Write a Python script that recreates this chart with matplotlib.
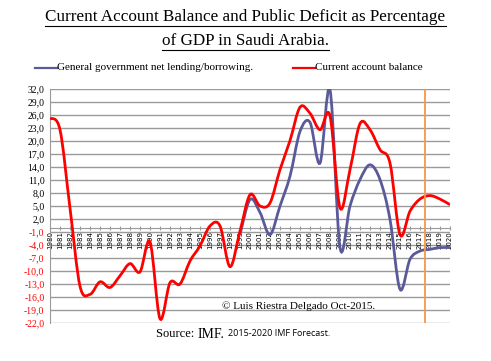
import numpy as np
import matplotlib
matplotlib.use("Agg")
import matplotlib.pyplot as plt
from matplotlib.path import Path
from matplotlib.patches import PathPatch
from matplotlib.lines import Line2D

# ---data (percent of GDP)---
years = list(range(1980, 2021))
current_account = [25.3, 22.6, 4.5, -13.5, -15.4, -12.5, -13.8, -11.1, -8.3, -10.2,
                   -3.3, -21.0, -12.7, -13.0, -7.7, -4.2, 0.4, 0.4, -9.0, -0.8,
                   7.6, 5.0, 5.7, 13.4, 20.1, 27.8, 26.4, 22.6, 25.8, 4.6,
                   13.4, 24.0, 22.6, 18.0, 14.9, -1.6, 3.8, 6.6, 7.4, 6.6, 5.3]
gov_years = list(range(1999, 2021))
gov_lending = [-1.6, 6.5, 3.5, -1.6, 5.0, 11.9, 22.2, 24.3, 14.9, 31.8,
               -4.6, 5.0, 11.1, 14.5, 11.1, 1.9, -14.2, -7.3, -5.4, -5.0, -4.6, -4.6]
y_ticks = np.arange(-22, 33, 3)
forecast_marker = 2017.5

RED = "#ff0000"
BLUE = "#5a5a9a"
SERIF = "Liberation Serif"


def smooth_path(xs, ys):
    """Catmull-Rom style bezier path through the points (like Excel smoothed lines)"""
    pts = np.column_stack([xs, ys]).astype(float)
    verts = [pts[0]]
    codes = [Path.MOVETO]
    n = len(pts)
    for i in range(n - 1):
        p0 = pts[i - 1] if i > 0 else pts[i]
        p1 = pts[i]
        p2 = pts[i + 1]
        p3 = pts[i + 2] if i + 2 < n else pts[i + 1]
        c1 = p1 + (p2 - p0) / 6.0
        c2 = p2 - (p3 - p1) / 6.0
        verts += [c1, c2, p2]
        codes += [Path.CURVE4] * 3
    return Path(verts, codes)


fig = plt.figure(figsize=(4.91, 3.61), dpi=100)
ax = fig.add_axes([50 / 491, 38 / 361, 400 / 491, 234 / 361])

ax.set_xlim(1980, 2020)
ax.set_ylim(-22, 32)
for v in y_ticks:
    ax.axhline(v, color="#9a9a9a", lw=1.0, zorder=1)

ax.add_patch(PathPatch(smooth_path(gov_years, gov_lending), fill=False,
                       edgecolor=BLUE, lw=2.0, zorder=3))
ax.add_patch(PathPatch(smooth_path(years, current_account), fill=False,
                       edgecolor=RED, lw=2.0, zorder=4))
ax.axvline(forecast_marker, color="#f79646", lw=1.3, zorder=5)

# --- axes styling ---
for side in ["top", "right"]:
    ax.spines[side].set_visible(False)
ax.spines["left"].set_color("#9a9a9a")
ax.spines["bottom"].set_position(("data", 0))
ax.spines["bottom"].set_color("#9a9a9a")

ax.set_yticks(y_ticks)
ax.set_yticklabels([f"{v:.1f}".replace(".", ",") for v in y_ticks],
                   fontsize=7, family=SERIF)
for lab, v in zip(ax.get_yticklabels(), y_ticks):
    lab.set_color(RED if v < 0 else "black")
ax.tick_params(axis="y", length=0, pad=4)

ax.set_xticks(years)
ax.set_xticklabels([str(y) for y in years], rotation=90, fontsize=5, family="DejaVu Sans")
ax.tick_params(axis="x", length=3, direction="inout", color="#9a9a9a", pad=1)

# --- texts ---
t1 = fig.text(0.5, 1 - 17 / 361, "Current Account Balance and Public Deficit as Percentage",
              ha="center", va="center", fontsize=12.3, family=SERIF)
t2 = fig.text(0.5, 1 - 41 / 361, "of GDP in Saudi Arabia.",
              ha="center", va="center", fontsize=12.3, family=SERIF)

fig.add_artist(Line2D([35 / 491, 57 / 491], [1 - 68 / 361] * 2, color=BLUE, lw=1.6))
fig.text(57 / 491, 1 - 68 / 361, "General government net lending/borrowing.",
         ha="left", va="center", fontsize=8, family=SERIF)
fig.add_artist(Line2D([293 / 491, 315 / 491], [1 - 68 / 361] * 2, color=RED, lw=1.6))
fig.text(315 / 491, 1 - 68 / 361, "Current account balance",
         ha="left", va="center", fontsize=8, family=SERIF)

fig.text(222 / 491, 1 - 306 / 361, "\u00a9 Luis Riestra Delgado Oct-2015.",
         ha="left", va="center", fontsize=8, family=SERIF)
s1 = fig.text(156 / 491, 1 - 334 / 361, "Source: ", ha="left", va="center",
              fontsize=9, family=SERIF)
fig.canvas.draw()
r = fig.canvas.get_renderer()
bb = s1.get_window_extent(r)
s2 = fig.text(bb.x1 / 491, 1 - 334 / 361, "IMF.", ha="left", va="center",
              fontsize=10, family=SERIF)
bb = s2.get_window_extent(r)
fig.text(bb.x1 / 491 + 0.008, 1 - 334 / 361, "2015-2020 IMF Forecast.", ha="left",
         va="center", fontsize=6.5, family="Open Sans")

# underline the title lines
for t in (t1, t2):
    bb = t.get_window_extent(r)
    y = (bb.y0 - 1) / 361
    fig.add_artist(Line2D([bb.x0 / 491, bb.x1 / 491], [y, y], color="black", lw=0.8))

fig.savefig("out.png", dpi=100)
